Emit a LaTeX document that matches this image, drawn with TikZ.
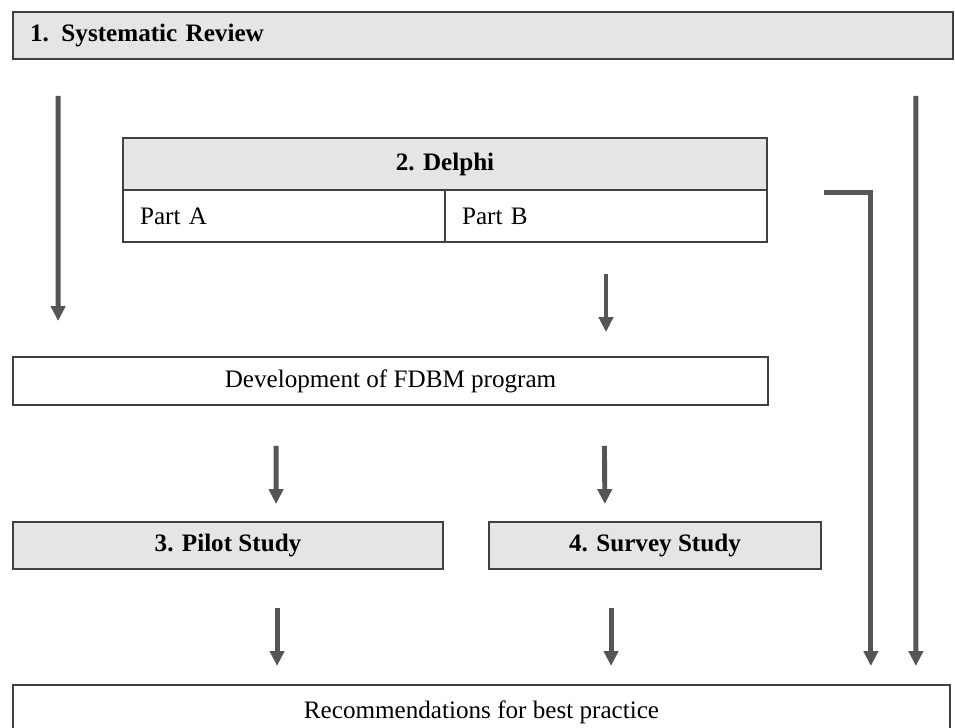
\documentclass[tikz,border=0pt]{standalone}
\usepackage{fontspec}
\setmainfont{Liberation Serif}
\usepackage{xcolor}
\usepackage{tikz}
\usetikzlibrary{calc}
\usetikzlibrary{arrows.meta}
\definecolor{stagefill}{HTML}{E5E5E5}
\definecolor{boxline}{HTML}{404040}
\definecolor{arrowgray}{HTML}{555555}
\newcommand{\diagfont}{\fontsize{14.3}{17}\selectfont}
\tikzstyle{stage} = [rectangle, draw=boxline, line width=1.1pt, fill=stagefill, font=\diagfont\bfseries, minimum height=0.94cm]
\tikzstyle{plain} = [rectangle, draw=boxline, line width=1.1pt, fill=white, font=\diagfont, minimum height=0.96cm]
\tikzstyle{line} = [draw=arrowgray, line width=2.8pt, -{Triangle[width=8pt,length=8.5pt]}]

\begin{document}
\begin{tikzpicture}[x=0.02cm, y=-0.02cm]
\useasboundingbox (0,0) rectangle (955,727);
\clip (0,0) rectangle (955,727);

\node [stage, text width=18.12cm, inner xsep=0.34cm, align=left] (review) at (483,35.5) {1. Systematic Review};
\node [stage, minimum width=12.88cm, minimum height=1.04cm] (delphi) at (445,164) {2. Delphi};
\node [plain, text width=5.76cm, inner xsep=0.34cm, minimum height=1.04cm, align=left] (partA) at (284,216) {Part A};
\node [plain, text width=5.76cm, inner xsep=0.34cm, minimum height=1.04cm, align=left] (partB) at (606,216) {Part B};
\node [plain, minimum width=15.1cm] (dev) at (390.5,381) {Development of FDBM program};
\node [stage, minimum width=8.6cm] (pilot) at (228,545.5) {3. Pilot Study};
\node [stage, minimum width=6.64cm] (survey) at (655,545.5) {4. Survey Study};
\node [plain, minimum width=18.74cm, minimum height=1.08cm] (recs) at (481.5,712) {Recommendations for best practice};

\path [line, shorten <=0.72cm, shorten >=0.7cm] ($(review.south west)+(46,0)$) -- ($(dev.north west)+(46,0)$);
\path [line, shorten <=0.72cm, shorten >=0.36cm] ($(review.south east)+(-38,0)$) -- ($(recs.north east)+(-35,0)$);
\path [line, shorten >=0.36cm] ($(partB.north east)+(56,3)$) -| ($(recs.north east)+(-80,0)$);
\path [line, shorten <=0.62cm, shorten >=0.48cm] (partB.south) -- (partB.south |- dev.north);
\path [line, shorten <=0.8cm, shorten >=0.34cm] ($(dev.south west)+(264,0)$) -- ($(pilot.north west)+(264,0)$);
\path [line, shorten <=0.8cm, shorten >=0.34cm] ($(dev.south west)+(592,0)$) -- ($(survey.north)+(-50,0)$);
\path [line, shorten <=0.76cm, shorten >=0.4cm] ($(pilot.south west)+(265,0)$) -- ($(pilot.south west)+(265,116)$);
\path [line, shorten <=0.76cm, shorten >=0.4cm] ($(survey.south west)+(123,0)$) -- ($(survey.south west)+(123,116)$);

\end{tikzpicture}
\end{document}
